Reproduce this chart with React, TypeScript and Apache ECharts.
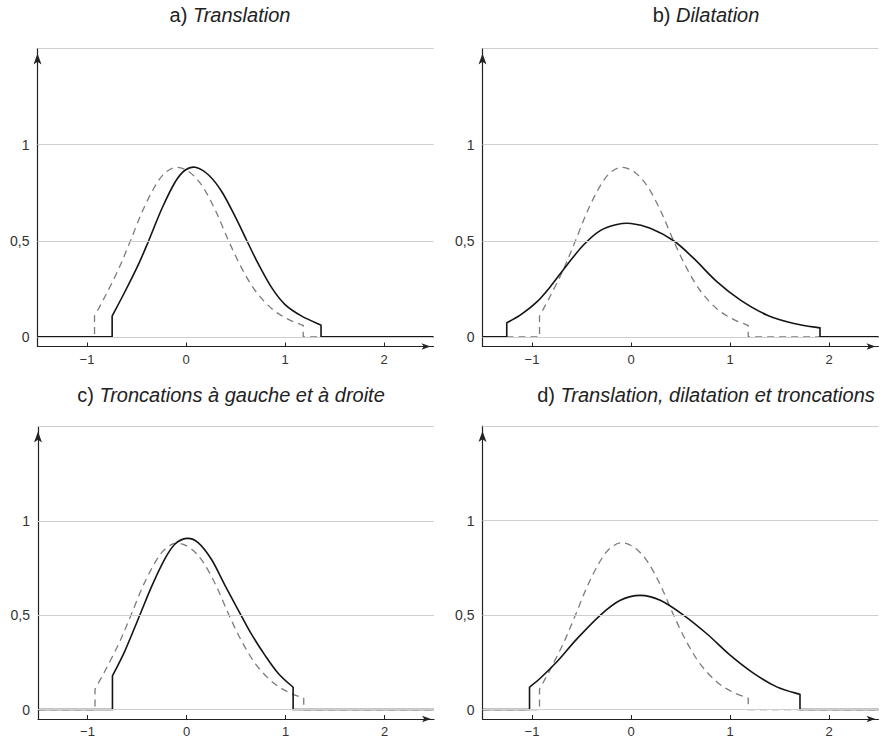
import React, { useEffect, useRef } from "react";
import * as echarts from "echarts";

// ---------- data ----------
const X_MIN = -1.5;
const X_MAX = 2.5;
const Y_MIN = -0.05;
const Y_MAX = 1.5;

const xTickValues = [-1, 0, 1, 2];
const xTickLabels = ["−1", "0", "1", "2"];
const yTickValues = [0, 0.5, 1];
const yTickLabels = ["0", "0,5", "1"];
const gridValues = [0, 0.5, 1, 1.5];

const panelLetters = ["a) ", "b) ", "c) ", "d) "];
const panelTitles = [
  "Translation",
  "Dilatation",
  "Troncations à gauche et à droite",
  "Translation, dilatation et troncations",
];

// dashed reference density (same in every panel), from left cut to right cut
const referenceCurve: [number, number][] = [
  [-0.924, 0.108], [-0.813, 0.215], [-0.679, 0.355], [-0.561, 0.5],
  [-0.435, 0.66], [-0.3, 0.795], [-0.2, 0.858], [-0.091, 0.882],
  [0.04, 0.855], [0.17, 0.78], [0.3, 0.655], [0.43, 0.5],
  [0.56, 0.36], [0.7, 0.24], [0.87, 0.145], [1.03, 0.092],
  [1.184, 0.06],
];

// a) translation
const translatedCurve: [number, number][] = [
  [-0.746, 0.108], [-0.612, 0.24], [-0.478, 0.38], [-0.377, 0.5],
  [-0.242, 0.669], [-0.108, 0.807], [-0.007, 0.868], [0.094, 0.882],
  [0.228, 0.842], [0.362, 0.755], [0.497, 0.625], [0.615, 0.5],
  [0.732, 0.378], [0.867, 0.255], [1.001, 0.168], [1.169, 0.108],
  [1.364, 0.061],
];

// b) dilatation
const dilatedCurve: [number, number][] = [
  [-1.255, 0.073], [-1.12, 0.113], [-0.951, 0.182], [-0.817, 0.26],
  [-0.648, 0.373], [-0.48, 0.478], [-0.311, 0.553], [-0.142, 0.585],
  [0.0, 0.59], [0.195, 0.565], [0.431, 0.5], [0.634, 0.408],
  [0.87, 0.286], [1.106, 0.191], [1.376, 0.113], [1.646, 0.07],
  [1.909, 0.047],
];

// c) truncations left and right
const truncatedCurve: [number, number][] = [
  [-0.748, 0.179], [-0.623, 0.31], [-0.472, 0.5], [-0.354, 0.65],
  [-0.219, 0.798], [-0.118, 0.876], [0.003, 0.907], [0.117, 0.885],
  [0.253, 0.795], [0.387, 0.66], [0.52, 0.53], [0.65, 0.405],
  [0.79, 0.29], [0.93, 0.19], [1.077, 0.118],
];

// d) translation, dilatation and truncations
const combinedCurve: [number, number][] = [
  [-1.025, 0.118], [-0.914, 0.167], [-0.746, 0.254], [-0.544, 0.375],
  [-0.309, 0.5], [-0.108, 0.578], [0.094, 0.604], [0.295, 0.578],
  [0.53, 0.5], [0.766, 0.401], [1.001, 0.288], [1.236, 0.193],
  [1.472, 0.12], [1.707, 0.08],
];

const solidCurves = [translatedCurve, dilatedCurve, truncatedCurve, combinedCurve];

// ---------- layout ----------
const FONT = "'Liberation Sans', Arial, Helvetica, sans-serif";
const gridBoxes = [
  { left: 37.5, top: 48.5, width: 396, height: 298 },
  { left: 482.5, top: 48.5, width: 396, height: 298 },
  { left: 38, top: 426.5, width: 396, height: 297 },
  { left: 482.5, top: 426, width: 396, height: 297 },
];
const titleCenters = [
  [230, 15],
  [706, 15],
  [231, 395],
  [706, 395],
];

const SOLID = { stroke: "#151515", lineWidth: 1.6 };
const DASHED = { stroke: "#7b7b7b", lineWidth: 1.3, lineDash: [7, 5] };

// Path through the read points (Catmull-Rom spline in pixel space),
// with the flat zero parts and the vertical truncation jumps.
function buildPath(curve: [number, number][], api: any): string {
  const pts: number[][] = curve.map((p) => api.coord(p));
  const n = pts.length;
  const f = (p: number[]) => `${p[0].toFixed(2)} ${p[1].toFixed(2)}`;
  const start = api.coord([X_MIN, 0]);
  const leftFoot = api.coord([curve[0][0], 0]);
  const rightFoot = api.coord([curve[n - 1][0], 0]);
  const end = api.coord([X_MAX, 0]);
  let d = `M${f(start)} L${f(leftFoot)} L${f(pts[0])}`;
  for (let i = 0; i < n - 1; i++) {
    const p0 = pts[Math.max(i - 1, 0)];
    const p1 = pts[i];
    const p2 = pts[i + 1];
    const p3 = pts[Math.min(i + 2, n - 1)];
    const c1 = [p1[0] + (p2[0] - p0[0]) / 6, p1[1] + (p2[1] - p0[1]) / 6];
    const c2 = [p2[0] - (p3[0] - p1[0]) / 6, p2[1] - (p3[1] - p1[1]) / 6];
    d += ` C${f(c1)} ${f(c2)} ${f(p2)}`;
  }
  d += ` L${f(rightFoot)} L${f(end)}`;
  return d;
}

function buildOption(): any {
  const xAxis: any[] = [];
  const yAxis: any[] = [];
  const series: any[] = [];
  const graphic: any[] = [];

  gridBoxes.forEach((_, i) => {
    xAxis.push({
      type: "value",
      gridIndex: i,
      min: X_MIN,
      max: X_MAX,
      axisLine: {
        onZero: false,
        lineStyle: { color: "#222", width: 1.2 },
        symbol: ["none", "arrow"],
        symbolSize: [5, 9],
        symbolOffset: [0, -3],
      },
      axisTick: {
        inside: true,
        length: 4,
        customValues: xTickValues,
        lineStyle: { color: "#222", width: 1 },
      },
      axisLabel: {
        customValues: xTickValues,
        formatter: (v: number) => {
          const k = xTickValues.indexOf(v);
          return k >= 0 ? xTickLabels[k] : "";
        },
        fontSize: 13,
        color: "#333",
        margin: 6,
        fontFamily: FONT,
      },
      splitLine: { show: false },
    });
    yAxis.push({
      type: "value",
      gridIndex: i,
      min: Y_MIN,
      max: Y_MAX,
      axisLine: {
        onZero: false,
        lineStyle: { color: "#222", width: 1.2 },
        symbol: ["none", "arrow"],
        symbolSize: [6, 11],
        symbolOffset: [0, -5],
      },
      axisTick: {
        inside: true,
        length: 4,
        customValues: yTickValues,
        lineStyle: { color: "#222", width: 1 },
      },
      axisLabel: {
        customValues: yTickValues,
        formatter: (v: number) => {
          const k = yTickValues.indexOf(v);
          return k >= 0 ? yTickLabels[k] : "";
        },
        fontSize: 14,
        color: "#333",
        margin: 8,
        fontFamily: FONT,
      },
      splitLine: { show: false },
    });

    // horizontal grid lines
    series.push({
      type: "line",
      xAxisIndex: i,
      yAxisIndex: i,
      data: [],
      silent: true,
      z: 1,
      markLine: {
        silent: true,
        symbol: ["none", "none"],
        label: { show: false },
        emphasis: { disabled: true },
        lineStyle: { color: "#cfcfcf", width: 1, type: "solid" },
        data: gridValues.map((v) => ({ yAxis: v })),
      },
    });

    const addCurve = (curve: [number, number][], style: any, z: number) => {
      series.push({
        type: "custom",
        xAxisIndex: i,
        yAxisIndex: i,
        data: curve,
        encode: { x: 0, y: 1 },
        silent: true,
        clip: false,
        z,
        renderItem: (params: any, api: any) => {
          if (params.dataIndex !== 0) return null;
          return {
            type: "path",
            shape: { pathData: buildPath(curve, api) },
            style: { fill: "none", ...style },
          };
        },
      });
    };
    addCurve(referenceCurve, DASHED, 3);
    addCurve(solidCurves[i], SOLID, 4);

    graphic.push({
      type: "text",
      x: titleCenters[i][0],
      y: titleCenters[i][1],
      silent: true,
      style: {
        text: `{n|${panelLetters[i]}}{i|${panelTitles[i]}}`,
        align: "center",
        verticalAlign: "middle",
        rich: {
          n: { fontSize: 20, fontFamily: FONT, fill: "#222" },
          i: { fontSize: 20, fontFamily: FONT, fontStyle: "italic", fill: "#222" },
        },
      },
    });
  });

  return {
    animation: false,
    backgroundColor: "#ffffff",
    grid: gridBoxes.map((g) => ({ ...g, containLabel: false })),
    xAxis,
    yAxis,
    series,
    graphic,
  };
}

export default function App() {
  const ref = useRef<HTMLDivElement>(null);
  useEffect(() => {
    if (!ref.current) return;
    const chart = echarts.init(ref.current, undefined, { renderer: "svg" });
    chart.setOption(buildOption());
    return () => chart.dispose();
  }, []);
  return (
    <div
      ref={ref}
      style={{ position: "absolute", left: 0, top: 0, width: 895, height: 738 }}
    />
  );
}
